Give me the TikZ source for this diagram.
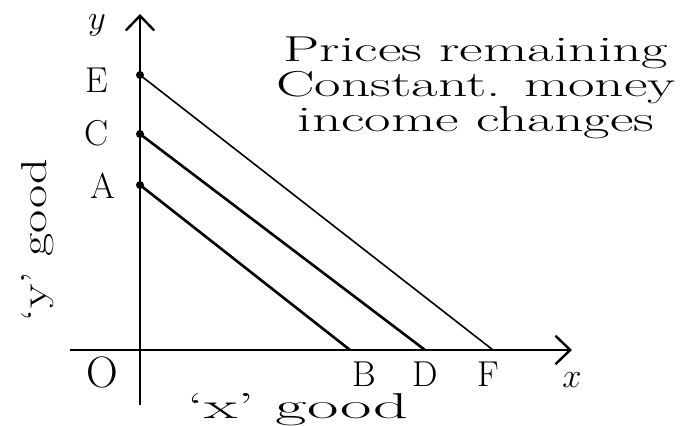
\documentclass[tikz,border=0pt]{standalone}
\usepackage{fontspec}
\usetikzlibrary{arrows.meta}

\begin{document}
\begin{tikzpicture}[x=0.5pt, y=-0.5pt, every node/.style={font=\fontsize{18}{18}\selectfont, inner sep=1pt}]
	\useasboundingbox (0,0) rectangle (692,426);
	% axes
	\coordinate (ybot) at (140,405);
	\coordinate (ytop) at (140,14);
	\coordinate (xleft) at (70,350);
	\coordinate (xright) at (572,350);
	\draw[line width=1pt, -{Straight Barb[length=2.6mm, width=5mm, line width=1.2pt]}] (ybot) -- (ytop);
	\draw[line width=1pt, -{Straight Barb[length=2.6mm, width=5mm, line width=1.2pt]}] (xleft) -- (xright);
	% budget lines
	\foreach \n/\m/\yy/\xx/\w in {A/B/185/350/1.3pt, C/D/134/425/1.3pt, E/F/75/493/0.8pt} {
		\coordinate (\n) at (140,\yy);
		\coordinate (\m) at (\xx,350);
		\draw[line width=\w] (\n) -- (\m);
		\fill (\n) circle (2pt);
	}
	\node (laby) at (97,25) {$y$};
	\node (labE) at (97,80) {E};
	\node (labC) at (97,133) {C};
	\node (labA) at (103,186) {A};
	\node[font=\fontsize{22}{22}\selectfont] (labO) at (102,372) {O};
	\node (labB) at (364,374) {B};
	\node (labD) at (425,374) {D};
	\node (labF) at (488,374) {F};
	\node (labx) at (572,380) {$x$};
	\node[xscale=1.9] (xgood) at (298,410) {`x' good};
	\node[rotate=90, xscale=1.4] (ygood) at (38,240) {`y' good};
	\node[align=center, xscale=1.6, inner sep=0pt, font=\fontsize{18}{17.5}\selectfont] (note) at (476,88) {Prices remaining\\Constant. money\\income changes};
\end{tikzpicture}
\end{document}
